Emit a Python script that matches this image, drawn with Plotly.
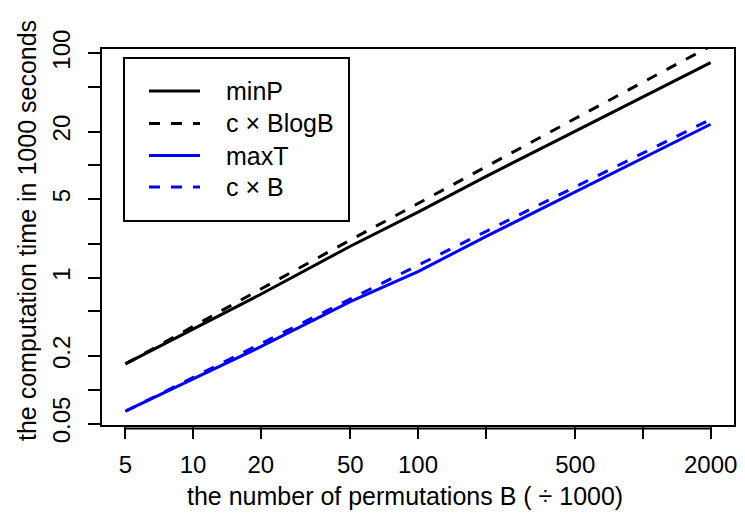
import plotly.graph_objects as go

# permutations B (in thousands)
B = [5, 10, 20, 50, 100, 200, 500, 1000, 2000]
# computation time in 1000 seconds
minP = [0.170, 0.348, 0.711, 1.905, 3.83, 7.96, 20.2, 41.0, 82.5]
cBlogB = [0.170, 0.368, 0.791, 2.160, 4.60, 9.75, 26.2, 55.2, 115.8]
maxT = [0.0644, 0.125, 0.242, 0.610, 1.13, 2.32, 5.83, 11.8, 23.3]
cB = [0.0644, 0.1288, 0.2576, 0.644, 1.288, 2.576, 6.44, 12.88, 25.76]

x_ticks = [5, 10, 20, 50, 100, 200, 500, 1000, 2000]
x_labels = ["5", "10", "20", "50", "100", "", "500", "", "2000"]
y_ticks = [0.05, 0.1, 0.2, 0.5, 1, 2, 5, 10, 20, 50, 100]
y_labels = ["0.05", "", "0.2", "", "1", "", "5", "", "20", "", "100"]

series_names = ["minP", "c \u00d7 BlogB", "maxT", "c \u00d7 B"]
x_title = "the number of permutations B ( \u00f7 1000)"
y_title = "the computation time in 1000 seconds"

FONT = "Liberation Sans, Arial, sans-serif"
BLACK = "#000000"
BLUE = "#0000FF"
OFF = 8  # page body margin
W, H = 745 - OFF, 519 - OFF
ML, MR, MT, MB = 94, 11, 41, 94
PW, PH = W - ML - MR, H - MT - MB


def px_x(px):
    return (px - OFF - ML) / PW


def px_y(py):
    return (H - MB - (py - OFF)) / PH


styles = [
    dict(color=BLACK, width=3),
    dict(color=BLACK, width=3, dash="11px,11px"),
    dict(color=BLUE, width=3),
    dict(color=BLUE, width=3, dash="11px,11px"),
]

fig = go.Figure()
for name, ys, st in zip(series_names, [minP, cBlogB, maxT, cB], styles):
    fig.add_trace(go.Scatter(x=B, y=ys, mode="lines", name=name,
                             line=st, showlegend=False))

axis_common = dict(
    type="log", showgrid=False, zeroline=False, showline=True, mirror=True,
    linecolor=BLACK, linewidth=2, ticks="outside", ticklen=12, tickwidth=2,
    tickcolor=BLACK, tickfont=dict(family=FONT, size=24, color=BLACK),
    automargin=False,
)

shapes = []
annotations = []
# x axis line drawn slightly below the box, spanning first to last tick
shapes.append(dict(type="line", xref="x", yref="paper", x0=x_ticks[0], x1=x_ticks[-1],
                   y0=-0.009, y1=-0.009, line=dict(color=BLACK, width=2)))
# legend box
shapes.append(dict(type="rect", xref="paper", yref="paper",
                   x0=px_x(124), x1=px_x(349), y0=px_y(221), y1=px_y(58),
                   line=dict(color=BLACK, width=2), fillcolor="white", layer="above"))
rows = [91, 123.5, 155.5, 187]
for name, st, ry in zip(series_names, styles, rows):
    shapes.append(dict(type="line", xref="paper", yref="paper",
                       x0=px_x(149), x1=px_x(200), y0=px_y(ry), y1=px_y(ry),
                       line=st, layer="above"))
    annotations.append(dict(text=name, xref="paper", yref="paper",
                            x=px_x(224), y=px_y(ry), xanchor="left", yanchor="middle",
                            showarrow=False,
                            font=dict(family=FONT, size=25, color=BLACK)))
# axis titles
annotations.append(dict(text=x_title, xref="paper", yref="paper",
                        x=px_x(405), y=px_y(496), xanchor="center", yanchor="middle",
                        showarrow=False, font=dict(family=FONT, size=25, color=BLACK)))
annotations.append(dict(text=y_title, xref="paper", yref="paper", textangle=-90,
                        x=px_x(27), y=px_y(231), xanchor="center", yanchor="middle",
                        showarrow=False, font=dict(family=FONT, size=25, color=BLACK)))

fig.update_layout(
    width=W, height=H,
    margin=dict(l=ML, r=MR, t=MT, b=MB),
    paper_bgcolor="white", plot_bgcolor="white",
    font=dict(family=FONT, color=BLACK),
    showlegend=False,
    xaxis=dict(
        **axis_common,
        range=[0.5949, 3.405],
        tickvals=x_ticks, ticktext=x_labels,
        ticklabelstandoff=5,
    ),
    yaxis=dict(
        **axis_common,
        range=[-1.314, 2.038],
        tickvals=y_ticks, ticktext=y_labels, tickangle=-90,
        ticklabelstandoff=8,
    ),
    shapes=shapes,
    annotations=annotations,
)

fig.write_html("out.html")
